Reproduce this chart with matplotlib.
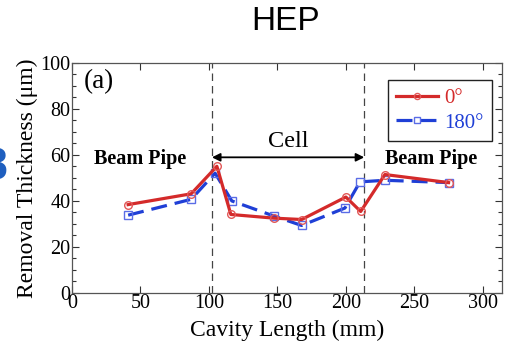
import matplotlib
matplotlib.use("Agg")
import matplotlib.pyplot as plt
from matplotlib.ticker import MultipleLocator

# Data
x_0deg = [41, 87, 105.8, 116, 147.5, 167.7, 200, 210.8, 228.5, 275]
y_0deg = [38.3, 43, 55, 34, 32.4, 31.8, 41.6, 35.3, 51.4, 47.9]
x_180deg = [41, 87, 104.5, 116.7, 147.5, 167.7, 199.3, 210.3, 228.5, 275]
y_180deg = [33.7, 40.6, 52, 39.9, 33.3, 29.2, 36.8, 48.2, 48.9, 47.9]
cell_bounds = [102.2, 213.4]
series_labels = ["0°", "180°"]
x_ticks = [0, 50, 100, 150, 200, 250, 300]
y_ticks = [0, 20, 40, 60, 80, 100]

serif = "Liberation Serif"

fig = plt.figure(figsize=(5.09, 3.47), dpi=100)
ax = fig.add_axes([72/509, 1-292.5/347, (502-72)/509, (292.5-63)/347])

red_line = "#d42a2a"
red_mk = "#e25858"
blue_line = "#1f3fd6"
blue_mk = "#5a6ce6"

ax.plot(x_0deg, y_0deg, '-', color=red_line, lw=2.3, marker='o', ms=5.5,
        mfc='none', mec=red_mk, mew=1.0, label=series_labels[0], zorder=4)
ax.plot(x_180deg, y_180deg, '--', color=blue_line, lw=2.3, dashes=(5, 2.5),
        marker='s', ms=5.5, mfc='none', mec=blue_mk, mew=1.0,
        label=series_labels[1], zorder=3)

for xb in cell_bounds:
    ax.axvline(xb, color="#444444", lw=0.9, dashes=(6, 4), zorder=1)

ax.annotate('', xy=(cell_bounds[0], 58.9), xytext=(cell_bounds[1], 58.9),
            arrowprops=dict(arrowstyle='<|-|>', color='black', lw=1.3,
                            mutation_scale=12, shrinkA=0, shrinkB=0))
ax.text(sum(cell_bounds)/2, 66, "Cell", family=serif, fontsize=17.5,
        ha='center', va='center')
ax.text(50, 58, "Beam Pipe", family=serif, fontsize=14.5, fontweight='bold',
        ha='center', va='center')
ax.text(262.5, 58, "Beam Pipe", family=serif, fontsize=14.5, fontweight='bold',
        ha='center', va='center')
ax.text(19.5, 92, "(a)", family=serif, fontsize=19.5, ha='center', va='center')

ax.set_xlim(0, 314)
ax.set_ylim(0, 100)
ax.set_xticks(x_ticks)
ax.set_yticks(y_ticks)
ax.yaxis.set_minor_locator(MultipleLocator(5))
ax.tick_params(which='both', direction='in', top=True, right=True,
               colors='#333333', labelcolor='black', labelsize=14.5, pad=1)
ax.tick_params(which='major', length=5, width=0.8)
ax.tick_params(which='minor', length=3, width=0.8)
for lbl in ax.get_xticklabels() + ax.get_yticklabels():
    lbl.set_family(serif)
for s in ax.spines.values():
    s.set_color('#555555')
    s.set_linewidth(0.9)

ax.set_xlabel("Cavity Length (mm)", family=serif, fontsize=17, labelpad=5)
ax.set_ylabel("Removal Thickness (μm)", family=serif, fontsize=17, labelpad=2)

ax_w = 502 - 72
ax_h = 292.5 - 63
leg = ax.legend(loc='upper right',
                bbox_to_anchor=((492 - 72) / ax_w, (292.5 - 80) / ax_h),
                borderaxespad=0,
                prop={'family': serif, 'size': 15}, frameon=True,
                fancybox=False, edgecolor='#222222', framealpha=1,
                handlelength=2.0, handletextpad=0.3, borderpad=0.4,
                labelspacing=0.25, markerscale=0.8)
leg.get_frame().set_linewidth(1.0)
leg.get_texts()[0].set_color(red_line)
leg.get_texts()[1].set_color(blue_line)

fig.text(286/509, 1-21/347, "HEP", family="Liberation Sans", fontsize=24,
         ha='center', va='center')
fig.text(-21/509, 1-167/347, "8", family="DejaVu Sans", fontsize=30,
         fontweight='bold', color='#1f5fbf', ha='left', va='center')

fig.savefig("out.png", dpi=100)
